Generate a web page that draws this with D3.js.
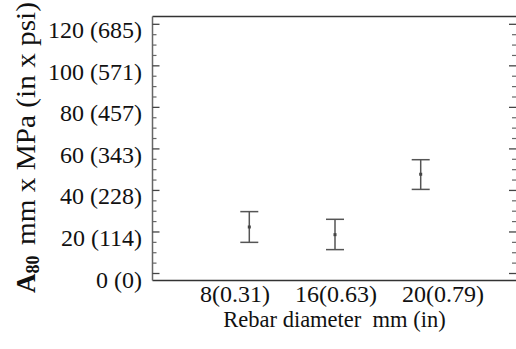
<!DOCTYPE html>
<html>
<head>
<meta charset="utf-8">
<script src="https://cdn.jsdelivr.net/npm/d3@7"></script>
<style>
  html, body { margin: 0; padding: 0; background: #fff; }
  svg { display: block; }
</style>
</head>
<body>
<svg id="chart" width="516" height="349"></svg>
<script>
const categories = ["8(0.31)", "16(0.63)", "20(0.79)"];
const meanValues = [22.4, 18.7, 47.8];
const upperValues = [29.8, 26.1, 54.8];
const lowerValues = [15.0, 11.5, 40.5];
const yTickValues = [0, 20, 40, 60, 80, 100, 120];
const yTickLabels = ["0 (0)", "20 (114)", "40 (228)", "60 (343)", "80 (457)", "100 (571)", "120 (685)"];
const yMinorStep = 5;
const xTitle = "Rebar diameter  mm (in)";
const yTitleMain = "A";
const yTitleSub = "80";
const yTitleRest = "mm x MPa (in x psi)";

const FONT = "Liberation Serif";
const m = { left: 152.5, top: 16.5, right: 516, bottom: 280.5 };
const svg = d3.select("#chart");

const y = d3.scaleLinear().domain([-3.37, 123.76]).range([m.bottom, m.top]);
const x = d3.scalePoint().domain(categories).range([249.3, 420.7]);

// frame
const frameColor = "#333";
svg.append("line").attr("x1", m.left).attr("x2", m.right).attr("y1", m.top).attr("y2", m.top)
  .attr("stroke", frameColor).attr("stroke-width", 1.5);
svg.append("line").attr("x1", m.left).attr("x2", m.right).attr("y1", m.bottom).attr("y2", m.bottom)
  .attr("stroke", frameColor).attr("stroke-width", 1.5);
svg.append("line").attr("x1", m.left).attr("x2", m.left).attr("y1", m.top).attr("y2", m.bottom)
  .attr("stroke", "#666").attr("stroke-width", 1.5);

// minor ticks
const minorTicks = d3.range(0, 120 + 0.001, yMinorStep).filter(v => !yTickValues.includes(v));
const tickColor = "#666";
svg.append("g").selectAll("line").data(minorTicks).join("line")
  .attr("x1", m.left).attr("x2", m.left + 4)
  .attr("y1", d => y(d)).attr("y2", d => y(d))
  .attr("stroke", tickColor).attr("stroke-width", 1.2);
svg.append("g").selectAll("line").data(minorTicks).join("line")
  .attr("x1", m.right).attr("x2", m.right - 4)
  .attr("y1", d => y(d)).attr("y2", d => y(d))
  .attr("stroke", tickColor).attr("stroke-width", 1.2);
// major ticks
svg.append("g").selectAll("line").data(yTickValues).join("line")
  .attr("x1", m.left).attr("x2", m.left + 7)
  .attr("y1", d => y(d)).attr("y2", d => y(d))
  .attr("stroke", "#444").attr("stroke-width", 1.3);
svg.append("g").selectAll("line").data(yTickValues).join("line")
  .attr("x1", m.right).attr("x2", m.right - 7)
  .attr("y1", d => y(d)).attr("y2", d => y(d))
  .attr("stroke", "#444").attr("stroke-width", 1.3);

// y tick labels
svg.append("g").selectAll("text").data(yTickValues).join("text")
  .attr("x", 142)
  .attr("y", d => y(d) + 14)
  .attr("text-anchor", "end")
  .attr("font-family", FONT)
  .attr("font-size", 24)
  .attr("fill", "#111")
  .text((d, i) => yTickLabels[i]);

// x category labels (one line, laid out left to right)
const xl = svg.append("text")
  .attr("x", 200).attr("y", 302)
  .attr("font-family", FONT)
  .attr("font-size", 24)
  .attr("fill", "#111");
xl.selectAll("tspan").data(categories).join("tspan")
  .attr("dx", (d, i) => i === 0 ? 0 : 25)
  .text(d => d);

svg.append("text")
  .attr("x", 334.5).attr("y", 327)
  .attr("text-anchor", "middle")
  .attr("font-family", FONT)
  .attr("font-size", 22.5)
  .attr("fill", "#111")
  .style("white-space", "pre")
  .text(xTitle);

// y title (rotated, reading bottom to top)
const ya = svg.append("text")
  .attr("transform", "translate(35,293) rotate(-90)")
  .attr("font-family", FONT)
  .attr("font-size", 27)
  .attr("font-weight", "bold")
  .attr("fill", "#111");
ya.append("tspan").text(yTitleMain);
ya.append("tspan").attr("font-size", 18).attr("dy", 4).text(yTitleSub);

svg.append("text")
  .attr("transform", "translate(35,245) rotate(-90)")
  .attr("font-family", FONT)
  .attr("font-size", 27)
  .attr("fill", "#111")
  .attr("textLength", 243)
  .attr("lengthAdjust", "spacingAndGlyphs")
  .text(yTitleRest);

// error bars
const eb = svg.append("g");
const barColor = "#555";
const cap = 9;
eb.selectAll("line.v").data(categories).join("line").attr("class", "v")
  .attr("x1", d => x(d)).attr("x2", d => x(d))
  .attr("y1", (d, i) => y(upperValues[i])).attr("y2", (d, i) => y(lowerValues[i]))
  .attr("stroke", barColor).attr("stroke-width", 1.5);
eb.selectAll("line.t").data(categories).join("line").attr("class", "t")
  .attr("x1", d => x(d) - cap).attr("x2", d => x(d) + cap)
  .attr("y1", (d, i) => y(upperValues[i])).attr("y2", (d, i) => y(upperValues[i]))
  .attr("stroke", barColor).attr("stroke-width", 1.5);
eb.selectAll("line.b").data(categories).join("line").attr("class", "b")
  .attr("x1", d => x(d) - cap).attr("x2", d => x(d) + cap)
  .attr("y1", (d, i) => y(lowerValues[i])).attr("y2", (d, i) => y(lowerValues[i]))
  .attr("stroke", barColor).attr("stroke-width", 1.5);
eb.selectAll("rect.c").data(categories).join("rect").attr("class", "c")
  .attr("x", d => x(d) - 1.5).attr("y", (d, i) => y(meanValues[i]) - 1.5)
  .attr("width", 3).attr("height", 3)
  .attr("fill", "#444");
</script>
</body>
</html>
